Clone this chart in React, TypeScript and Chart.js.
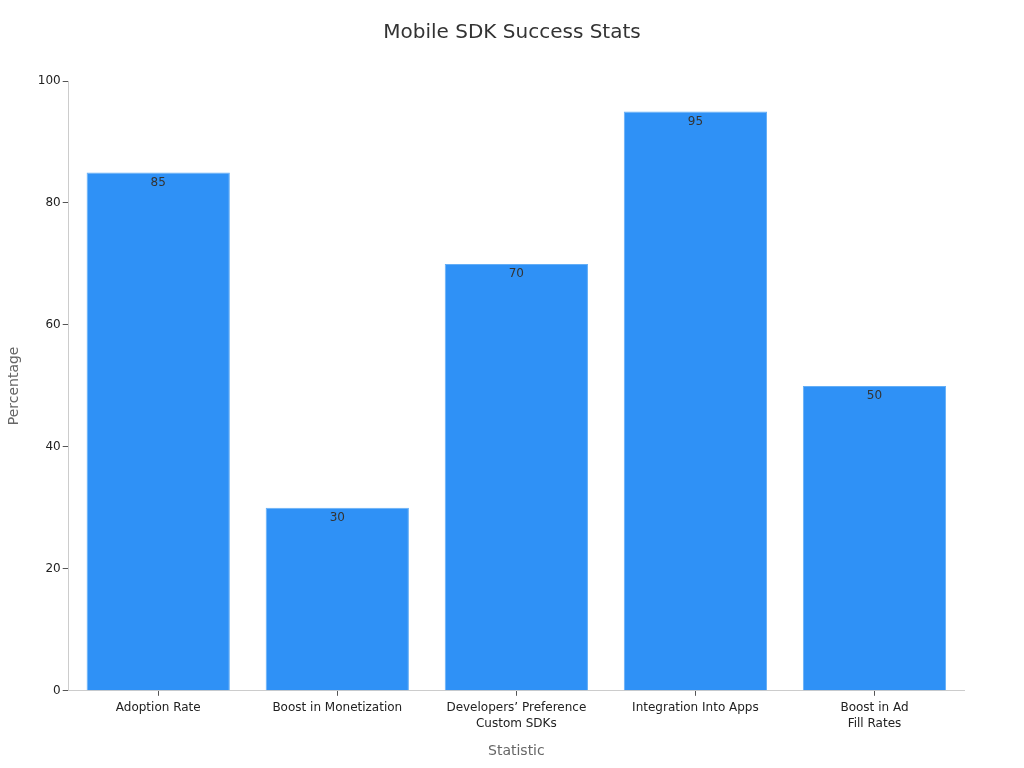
import { useEffect, useRef } from 'react';
import { Chart, registerables, Plugin } from 'chart.js';

Chart.register(...registerables);

const categories: (string | string[])[] = [
  'Adoption Rate',
  'Boost in Monetization',
  ['Developers’ Preference', 'Custom SDKs'],
  'Integration Into Apps',
  ['Boost in Ad', 'Fill Rates'],
];
const percentages = [85, 30, 70, 95, 50];
const yTicks = [0, 20, 40, 60, 80, 100];

const FONT = 'DejaVu Sans, sans-serif';
const TITLE = 'Mobile SDK Success Stats';

// value labels just inside the top of each bar, and the title centred on the canvas
const overlay: Plugin<'bar'> = {
  id: 'overlay',
  afterDatasetsDraw(chart) {
    const { ctx } = chart;
    const meta = chart.getDatasetMeta(0);
    ctx.save();
    ctx.font = `12px ${FONT}`;
    ctx.fillStyle = '#333';
    ctx.textAlign = 'center';
    ctx.textBaseline = 'middle';
    meta.data.forEach((bar, i) => {
      ctx.fillText(String(percentages[i]), bar.x, bar.y + 10);
    });
    ctx.font = `20px ${FONT}`;
    ctx.fillText(TITLE, chart.width / 2, 33);
    ctx.restore();
  },
};

export default function App() {
  const canvasRef = useRef<HTMLCanvasElement>(null);
  const chartRef = useRef<Chart | null>(null);

  useEffect(() => {
    if (!canvasRef.current) return;
    chartRef.current?.destroy();

    chartRef.current = new Chart(canvasRef.current, {
      type: 'bar',
      data: {
        labels: categories,
        datasets: [{
          data: percentages,
          backgroundColor: '#2F91F6',
          borderColor: '#64AEF6',
          borderWidth: 1,
          barPercentage: 0.8,
          categoryPercentage: 1,
        }],
      },
      options: {
        animation: false,
        responsive: true,
        maintainAspectRatio: false,
        layout: { padding: { left: 0, right: 60, top: 81, bottom: 4 } },
        plugins: {
          legend: { display: false },
          tooltip: { enabled: false },
          title: { display: false },
        },
        scales: {
          x: {
            grid: { drawOnChartArea: false, offset: false, color: '#555', tickLength: 5 },
            border: { color: '#ccc' },
            ticks: { color: '#222', font: { size: 12, family: FONT, lineHeight: 1.35 }, padding: 4 },
            title: {
              display: true,
              text: 'Statistic',
              color: '#666',
              font: { size: 14, family: FONT },
              padding: { top: 7 },
            },
          },
          y: {
            min: 0,
            max: 100,
            afterBuildTicks: axis => {
              axis.ticks = yTicks.map(v => ({ value: v }));
            },
            grid: { drawOnChartArea: false, color: '#555', tickLength: 6 },
            border: { color: '#ccc' },
            ticks: { color: '#222', font: { size: 12, family: FONT }, padding: 2 },
            title: {
              display: true,
              text: 'Percentage',
              color: '#666',
              font: { size: 14, family: FONT },
              padding: { top: 6, bottom: 13 },
            },
          },
        },
      },
      plugins: [overlay],
    });

    return () => { chartRef.current?.destroy(); chartRef.current = null; };
  }, []);

  return (
    <div style={{ position: 'fixed', left: 0, top: 0, width: 1024, height: 768, background: '#fff' }}>
      <canvas ref={canvasRef} role="img" aria-label="Mobile SDK success stats bar chart" />
    </div>
  );
}
